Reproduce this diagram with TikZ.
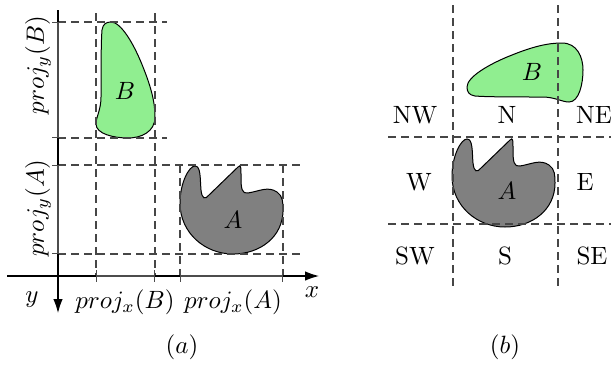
\documentclass[tikz,border=0pt]{standalone}
\usetikzlibrary{arrows.meta}
\definecolor{lgreen}{RGB}{144,238,144}
\definecolor{shgray}{RGB}{128,128,128}
\definecolor{dashgray}{RGB}{70,70,70}
\tikzset{
  guide/.style={dashgray, line width=0.45pt, dash pattern=on 3.2pt off 2pt},
  outline/.style={black, line width=0.4pt},
  axis/.style={black, line width=0.45pt, -{Latex[length=5.6pt,width=3.8pt]}},
  projbar/.style={black!70, line width=0.9pt, {Bar[width=4.5pt,line width=0.45pt]}-{Bar[width=4.5pt,line width=0.45pt]}},
  lbl/.style={inner sep=0pt},
  shapeA/.pic={
    \draw[outline, fill=shgray] (0,38) .. controls (0,18) and (9,1) .. (15,1)
      .. controls (21,1) and (20,14) .. (21,25) .. controls (22,34) and (25,35) .. (29,30)
      -- (58,2) .. controls (61,-1) and (61,2) .. (61,12) .. controls (61,24) and (62,29) .. (68,28)
      .. controls (80,26) and (88,21) .. (97,27) .. controls (103,31) and (103,38) .. (103,45)
      .. controls (103,72) and (80,89) .. (53,89) .. controls (25,89) and (0,68) .. (0,38) -- cycle;
  },
  shapeB/.pic={
    \draw[outline, fill=lgreen] (15,0) .. controls (25,0) and (38,22) .. (47,45)
      .. controls (55,65) and (59,80) .. (59,95) .. controls (59,110) and (45,116) .. (32,116)
      .. controls (18,116) and (0,112) .. (0,102) .. controls (0,95) and (5,88) .. (5,75)
      .. controls (5,50) and (5,20) .. (6,8) .. controls (7,2) and (10,0) .. (15,0) -- cycle;
  }
}
\begin{document}
\begin{tikzpicture}[x=0.4pt, y=-0.4pt]
\useasboundingbox (0,0) rectangle (611,367);
% ---------- panel (a) ----------
\pic at (180,165) {shapeA};
\pic at (96,22) {shapeB};
\node[lbl] (aA) at (233,220) {$A$};
\node[lbl] (aB) at (125,91) {$B$};
% guides
\draw[guide] (96,13) -- (96,276);
\draw[guide] (155,13) -- (155,276);
\draw[guide] (180,165) -- (180,276);
\draw[guide] (283,165) -- (283,276);
\draw[guide] (58,22) -- (167,22);
\draw[guide] (58,138) -- (167,138);
\draw[guide] (58,165) -- (300,165);
\draw[guide] (58,254) -- (300,254);
% axes
\coordinate (xs) at (7,276);
\coordinate (xe) at (319,276);
\coordinate (ys) at (58,10);
\coordinate (ye) at (58,313);
\draw[axis] (xs) -- (xe);
\draw[axis] (ys) -- (ye);
% projections
\draw[projbar] (96,276) -- (155,276);
\draw[projbar] (180,276) -- (283,276);
\draw[projbar] (58,22) -- (58,138);
\draw[projbar] (58,165) -- (58,254);
% labels
\node[lbl] (ylab) at (32,300) {$y$};
\node[lbl] (xlab) at (312,292) {$x$};
\node[lbl] (pxB) at (125,302) {$proj_x(B)$};
\node[lbl] (pxA) at (233,302) {$proj_x(A)$};
\node[lbl, rotate=90] (pyB) at (38,65) {$proj_y(B)$};
\node[lbl, rotate=90] (pyA) at (38,208) {$proj_y(A)$};
\node[lbl] (capa) at (182,347) {$(a)$};
% ---------- panel (b) ----------
\pic at (452,138) {shapeA};
\pic[rotate=90] at (467,102) {shapeB};
\node[lbl] (bA) at (507,191) {$A$};
\node[lbl] (bB) at (532,72) {$B$};
\draw[guide] (453,5) -- (453,288);
\draw[guide] (558,5) -- (558,290);
\draw[guide] (388,137) -- (611,137);
\draw[guide] (388,224) -- (611,224);
\node[lbl] (nw) at (415,115) {NW};
\node[lbl] (n) at (507,115) {N};
\node[lbl] (ne) at (594,115) {NE};
\node[lbl] (w) at (419,182) {W};
\node[lbl] (e) at (585,182) {E};
\node[lbl] (sw) at (415,256) {SW};
\node[lbl] (s) at (505,256) {S};
\node[lbl] (se) at (592,256) {SE};
\node[lbl] (capb) at (505,347) {$(b)$};
\end{tikzpicture}
\end{document}
